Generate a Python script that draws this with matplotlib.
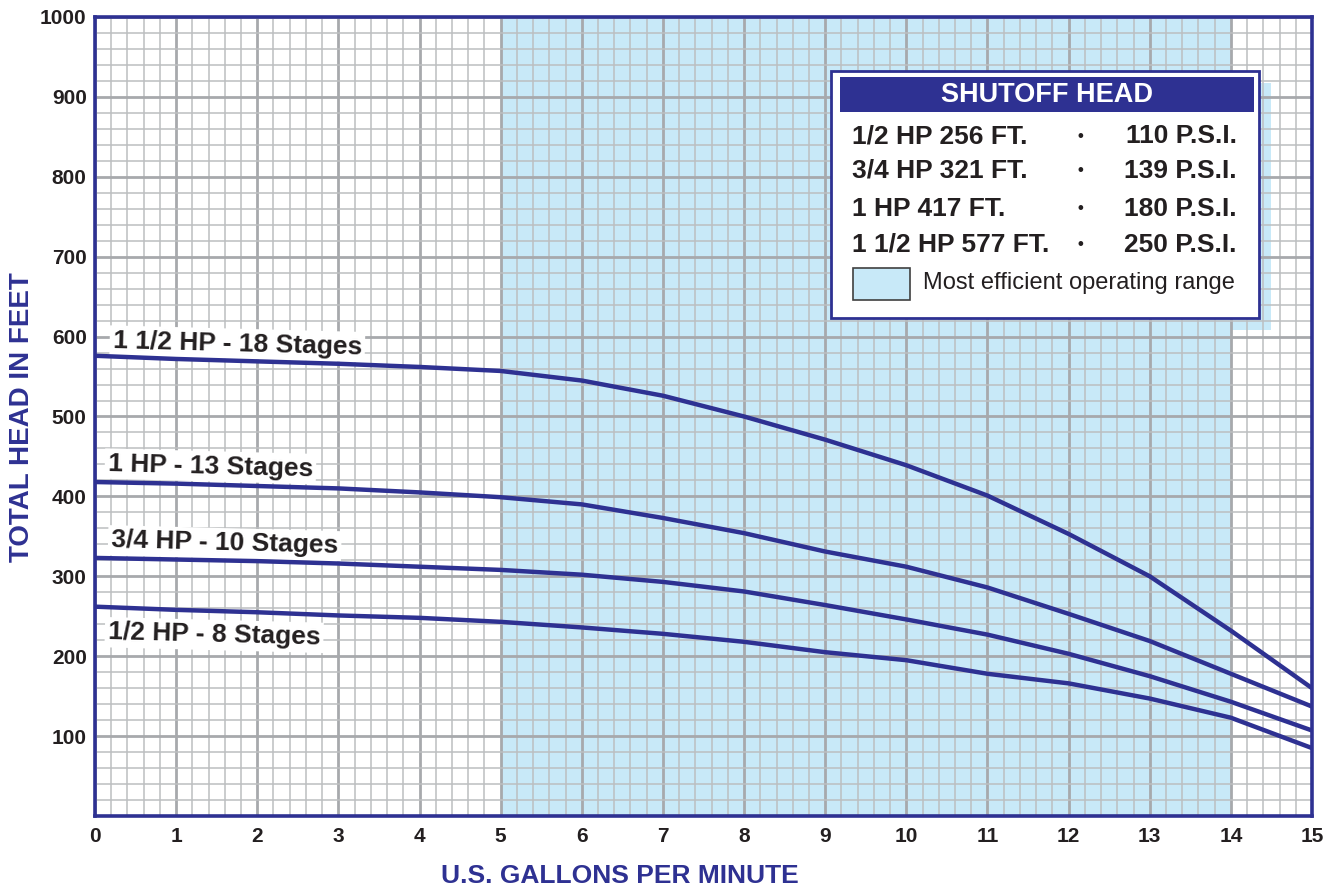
import matplotlib.pyplot as plt
from matplotlib.patches import Rectangle

# Datos (GPM vs pies de altura)
gpm = list(range(16))
hp_15 = [576, 572, 569, 566, 562, 557, 545, 526, 500, 471, 439, 401, 353, 300, 232, 160]
hp_1 = [418, 416, 413, 410, 405, 399, 390, 373, 354, 331, 312, 286, 253, 219, 178, 137]
hp_34 = [323, 321, 319, 316, 312, 308, 302, 293, 281, 264, 246, 227, 203, 175, 143, 107]
hp_12 = [262, 258, 255, 251, 248, 243, 236, 228, 218, 205, 195, 178, 166, 147, 123, 85]

curve_labels = ["1 1/2 HP - 18 Stages", "1 HP - 13 Stages", "3/4 HP - 10 Stages", "1/2 HP - 8 Stages"]
label_pos = [(0.22, 595), (0.16, 441), (0.20, 345), (0.16, 230)]

eff_range = (5, 14)

# Tabla de cierre
shut_hp = ["1/2", "3/4", "1", "1 1/2"]
shut_ft = [256, 321, 417, 577]
shut_psi = [110, 139, 180, 250]

NAVY = "#2E3192"
LBLUE = "#C8E9F8"
TXT = "#231F20"
W, H = 1338, 890

plt.rcParams['font.family'] = ['Liberation Sans', 'DejaVu Sans']

fig = plt.figure(figsize=(W / 100, H / 100), dpi=100)
ax = fig.add_axes([95 / W, 1 - 816 / H, 1217 / W, 799 / H])

fx = lambda px: px / W
fy = lambda py: 1 - py / H

ax.axvspan(eff_range[0], eff_range[1], color=LBLUE, lw=0, zorder=0)

for serie in [hp_15, hp_1, hp_34, hp_12]:
    ax.plot(gpm, serie, color=NAVY, lw=3.2, zorder=3, solid_capstyle='butt')

for txt, (x, y) in zip(curve_labels, label_pos):
    ax.text(x, y, txt, fontsize=19, fontweight='bold', color=TXT, ha='left', va='center',
            rotation=-1.5, rotation_mode='anchor', zorder=2.5,
            bbox=dict(boxstyle='square,pad=0.12', fc='white', ec='none'))

ax.set_xlim(0, 15)
ax.set_ylim(0, 1000)
ax.set_xticks(range(0, 16))
ax.set_yticks(range(100, 1001, 100))
ax.set_xticks([i * 0.2 for i in range(76)], minor=True)
ax.set_yticks(range(0, 1001, 20), minor=True)
ax.grid(which='major', color='#A7A9AC', lw=2.0)
ax.grid(which='minor', color='#BCBEC0', lw=1.1)
ax.tick_params(which='both', length=0)
ax.tick_params(axis='x', pad=8)
ax.tick_params(axis='y', pad=6)
for lab in ax.get_xticklabels() + ax.get_yticklabels():
    lab.set_fontsize(15)
    lab.set_fontweight('bold')
    lab.set_color(TXT)
for s in ax.spines.values():
    s.set_color(NAVY)
    s.set_linewidth(2.6)
    s.set_zorder(5)

fig.text(fx(620), fy(876), "U.S. GALLONS PER MINUTE", fontsize=19, fontweight='bold',
         color=NAVY, ha='center', va='center')
fig.text(fx(22), fy(417), "TOTAL HEAD IN FEET", fontsize=20, fontweight='bold',
         color=NAVY, ha='center', va='center', rotation=90)

# Cuadro de leyenda
def rect(x0, y0, x1, y1, target=None, **kw):
    r = Rectangle((fx(x0), fy(y1)), fx(x1) - fx(x0), fy(y0) - fy(y1),
                  transform=fig.transFigure, clip_on=False, **kw)
    if target is None:
        fig.add_artist(r)
    else:
        target.add_patch(r)

# sombra bajo la cuadricula
rect(843, 83, 1271, 330, target=ax, fc=LBLUE, ec='none', zorder=0.2)
rect(831, 71, 1259, 318, fc='white', ec=NAVY, lw=2.0, zorder=7)
rect(840, 77, 1254, 112, fc=NAVY, ec='none', zorder=8)
fig.text(fx(1047), fy(95), "SHUTOFF HEAD", fontsize=19.5, fontweight='bold', color='white',
         ha='center', va='center', zorder=9)

row_y = [136, 171, 209, 245]
for hp, ft, psi, yy in zip(shut_hp, shut_ft, shut_psi, row_y):
    fig.text(fx(852), fy(yy), f"{hp} HP {ft} FT.", fontsize=19, fontweight='bold',
             color=TXT, ha='left', va='center', zorder=9)
    fig.text(fx(1080), fy(yy), "•", fontsize=12, fontweight='bold', color=TXT,
             ha='center', va='center', zorder=9)
    fig.text(fx(1237), fy(yy), f"{psi} P.S.I.", fontsize=19, fontweight='bold',
             color=TXT, ha='right', va='center', zorder=9)

rect(853, 268, 910, 300, fc=LBLUE, ec='#404040', lw=1.2, zorder=9)
fig.text(fx(923), fy(283), "Most efficient operating range", fontsize=17, color=TXT,
         ha='left', va='center', zorder=9)

fig.savefig("out.png", dpi=100)
